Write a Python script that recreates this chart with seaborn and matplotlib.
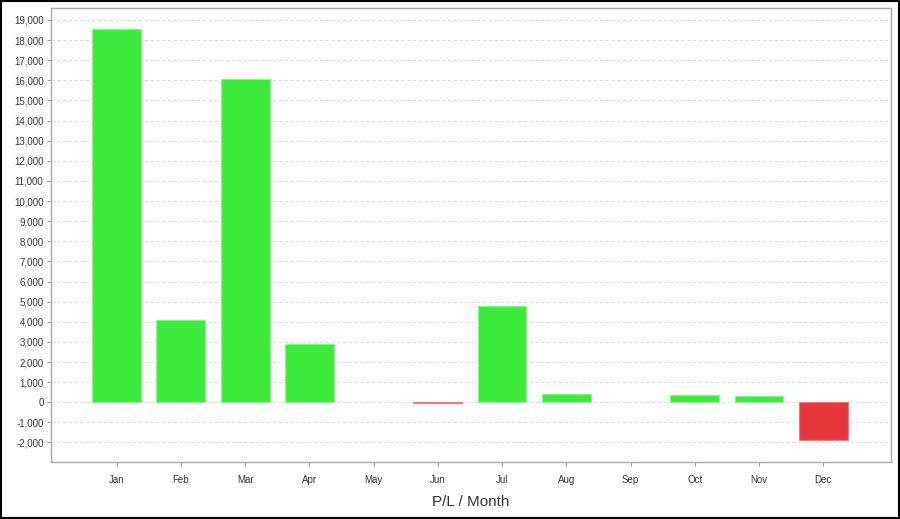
import matplotlib
matplotlib.use("Agg")
import matplotlib.pyplot as plt
import seaborn as sns
import pandas as pd
from matplotlib.patches import Rectangle
from matplotlib.ticker import MultipleLocator, FuncFormatter

months = ["Jan", "Feb", "Mar", "Apr", "May", "Jun", "Jul", "Aug", "Sep", "Oct", "Nov", "Dec"]
pl_values = [18560, 4080, 16070, 2880, 0, -60, 4780, 430, 0, 380, 330, -1900]

GREEN = "#3DEB3D"
RED = "#E8373C"
colors = [GREEN if v >= 0 else RED for v in pl_values]

df = pd.DataFrame({"month": months, "pl": pl_values})

sns.set_style("white")
plt.rcParams['font.family'] = ['Liberation Sans', 'DejaVu Sans']

fig = plt.figure(figsize=(9, 5.19), dpi=100)
ax = fig.add_axes([50.5 / 900, (519 - 462.3) / 519, (890.7 - 50.5) / 900, (462.3 - 8.3) / 519])

sns.barplot(data=df, x="month", y="pl", hue="month", palette=colors, legend=False,
            width=0.76, ax=ax, saturation=1, linewidth=0.8,
            edgecolor="#9af59a", zorder=3)
for p, c, v in zip(ax.patches, colors, pl_values):
    p.set_edgecolor("#8ef58e" if c == GREEN else "#f07a7e")
    if v == 0:
        p.set_linewidth(0)

ax.set_xlim(-1.03, 12.05)
ax.set_ylim(-2985, 19580)
ax.yaxis.set_major_locator(MultipleLocator(1000))
ax.yaxis.set_major_formatter(FuncFormatter(lambda v, p: f"{int(v):,}"))
ax.grid(axis="y", color="#d8d8d8", linestyle=(0, (3, 3)), linewidth=0.7, zorder=0)
ax.grid(axis="x", visible=False)
ax.set_axisbelow(True)

for s in ax.spines.values():
    s.set_color("#aaaaaa")
    s.set_linewidth(1.0)

ax.tick_params(axis="both", which="major", length=3, color="#999999", labelsize=7,
               labelcolor="#333333", left=True, bottom=True)
ax.tick_params(axis="x", pad=6)
ax.tick_params(axis="y", pad=2)

ax.set_ylabel("")
ax.set_xlabel("P/L / Month", fontsize=11, color="#333333", labelpad=7)

fig.patches.append(Rectangle((0.001, 0.001), 0.998, 0.997, transform=fig.transFigure,
                             fill=False, edgecolor="black", linewidth=1.5, zorder=10))

fig.savefig("out.png", dpi=100)
